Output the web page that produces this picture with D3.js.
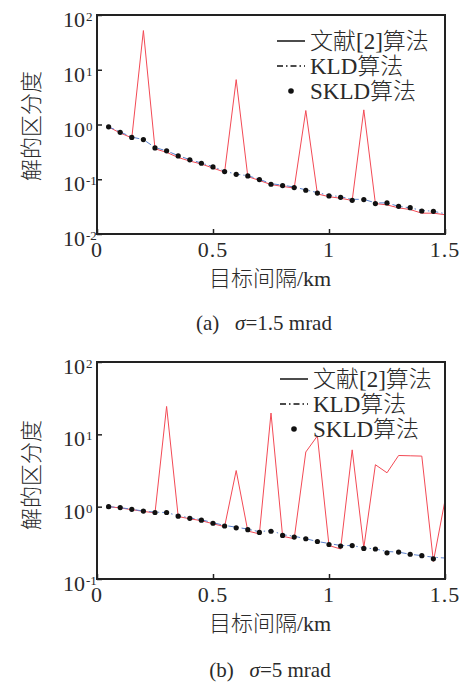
<!DOCTYPE html>
<html>
<head>
<meta charset="utf-8">
<script src="https://cdn.jsdelivr.net/npm/d3@7"></script>
<style>
body { margin: 0; background: #fff; }
text { fill: #2a2a2a; }
</style>
</head>
<body>
<script>
// target spacing (km)
var distance = [0.05, 0.1, 0.15, 0.2, 0.25, 0.3, 0.35, 0.4, 0.45, 0.5,
                0.55, 0.6, 0.65, 0.7, 0.75, 0.8, 0.85, 0.9, 0.95, 1.0,
                1.05, 1.1, 1.15, 1.2, 1.25, 1.3, 1.35, 1.4, 1.45, 1.5];

// (a) sigma = 1.5 mrad
var refA = [0.90, 0.70, 0.57, 52, 0.36, 0.31, 0.25, 0.215, 0.19, 0.16,
            0.135, 6.6, 0.112, 0.095, 0.08, 0.074, 0.069, 1.8, 0.054, 0.048,
            0.045, 0.041, 1.85, 0.036, 0.034, 0.030, 0.028, 0.024, 0.024, 0.0225];
var kldA = [0.91, 0.73, 0.59, 0.53, 0.38, 0.33, 0.27, 0.228, 0.198, 0.17,
            0.14, 0.124, 0.116, 0.1, 0.083, 0.078, 0.072, 0.064, 0.057, 0.051,
            0.048, 0.043, 0.043, 0.037, 0.037, 0.032, 0.030, 0.027, 0.026, 0.0235];
var skldA = [0.906, 0.72, 0.58, 0.53, 0.374, 0.33, 0.267, 0.226, 0.196, 0.168,
             0.138, 0.123, 0.115, 0.0986, 0.081, 0.0766, 0.0704, 0.063, 0.056, 0.0496,
             0.0468, 0.0413, 0.0425, 0.0359, 0.0369, 0.032, 0.0303, 0.0263, 0.026];

// (b) sigma = 5 mrad
var refB = [1.0, 0.96, 0.91, 0.86, 0.82, 24.3, 0.73, 0.68, 0.64, 0.58,
            0.53, 3.16, 0.46, 0.42, 19.7, 0.39, 0.36, 5.7, 9.5, 0.29,
            0.26, 6.1, 0.27, 3.8, 2.94, 5.1, 5.05, 5.0, 0.175, 1.22];
var kldB = [1.0, 0.97, 0.92, 0.87, 0.84, 0.83, 0.75, 0.70, 0.66, 0.60,
            0.55, 0.52, 0.49, 0.45, 0.47, 0.41, 0.39, 0.36, 0.33, 0.31,
            0.29, 0.29, 0.27, 0.26, 0.24, 0.235, 0.22, 0.21, 0.20, 0.195];
var skldB = [1.0, 0.97, 0.92, 0.87, 0.83, 0.83, 0.74, 0.69, 0.65, 0.59,
             0.54, 0.51, 0.48, 0.44, 0.457, 0.40, 0.38, 0.36, 0.33, 0.30,
             0.285, 0.29, 0.265, 0.26, 0.23, 0.236, 0.22, 0.21, 0.19];

var xTicks = [0, 0.5, 1, 1.5];
var legendNames = ['文献[2]算法', 'KLD算法', 'SKLD算法'];

var serif = 'Liberation Serif, Noto Sans CJK SC, serif';
var cjk = 'Noto Sans CJK SC, sans-serif';

var svg = d3.select('body').append('svg')
    .attr('width', 465)
    .attr('height', 683);

function drawPanel(p) {
    var x = d3.scaleLinear().domain([0, 1.5]).range([97, 445]);
    var y = d3.scaleLog().domain([p.yMin, 100]).range([p.bottom, p.top]);
    var g = svg.append('g');

    var clipId = 'clip' + p.id;
    g.append('clipPath').attr('id', clipId)
        .append('rect')
        .attr('x', 97).attr('y', p.top)
        .attr('width', 348).attr('height', p.bottom - p.top);

    var plot = g.append('g').attr('clip-path', 'url(#' + clipId + ')');

    var line = d3.line()
        .x(function(d) { return x(d[0]); })
        .y(function(d) { return y(d[1]); });

    // 文献[2]
    plot.append('path')
        .datum(d3.zip(distance, p.ref))
        .attr('d', line)
        .attr('fill', 'none')
        .attr('stroke', '#f34a55')
        .attr('stroke-width', 1);

    // KLD
    plot.append('path')
        .datum(d3.zip(distance, p.kld))
        .attr('d', line)
        .attr('fill', 'none')
        .attr('stroke', '#5a80cc')
        .attr('stroke-width', 1)
        .attr('stroke-dasharray', '6,3,1.5,3');

    // SKLD dots
    plot.selectAll('.dot')
        .data(d3.zip(distance, p.skld))
        .enter()
        .append('circle')
        .attr('class', 'dot')
        .attr('cx', function(d) { return x(d[0]); })
        .attr('cy', function(d) { return y(d[1]); })
        .attr('r', 2.6)
        .attr('fill', '#111');

    // axes, ticks pointing inside
    var yAxis = d3.axisLeft(y)
        .tickValues(p.yTicks)
        .tickSize(-5)
        .tickFormat('');
    g.append('g')
        .attr('transform', 'translate(97,0)')
        .call(yAxis)
        .call(function(a) { a.select('.domain').remove(); })
        .selectAll('line').attr('stroke', '#222').attr('stroke-width', 1.5);

    var xAxis = d3.axisBottom(x)
        .tickValues(xTicks)
        .tickSize(-5)
        .tickFormat('');
    g.append('g')
        .attr('transform', 'translate(0,' + p.bottom + ')')
        .call(xAxis)
        .call(function(a) { a.select('.domain').remove(); })
        .selectAll('line').attr('stroke', '#222').attr('stroke-width', 1.5);

    // frame
    g.append('rect')
        .attr('x', 97).attr('y', p.top)
        .attr('width', 348).attr('height', p.bottom - p.top)
        .attr('fill', 'none')
        .attr('stroke', '#222')
        .attr('stroke-width', 2);

    // y tick labels 10^n
    p.yTicks.forEach(function(v) {
        var e = Math.round(Math.log10(v));
        g.append('text')
            .attr('x', 85).attr('y', y(v) + 12)
            .attr('text-anchor', 'end')
            .attr('font-family', serif)
            .attr('font-size', 22)
            .text('10');
        g.append('text')
            .attr('x', 86).attr('y', y(v) + 6)
            .attr('font-family', serif)
            .attr('font-size', 13)
            .text(e);
    });

    // x tick labels
    xTicks.forEach(function(v) {
        g.append('text')
            .attr('x', x(v)).attr('y', p.bottom + 23)
            .attr('text-anchor', 'middle')
            .attr('font-family', serif)
            .attr('font-size', 22)
            .attr('letter-spacing', 1)
            .text(v);
    });

    // axis titles
    g.append('text')
        .attr('x', 270).attr('y', p.bottom + 52)
        .attr('text-anchor', 'middle')
        .attr('font-family', serif)
        .attr('font-weight', 300)
        .attr('font-size', 22)
        .text('目标间隔/km');

    g.append('text')
        .attr('transform', 'translate(39,' + p.yTitle + ') rotate(-90)')
        .attr('text-anchor', 'middle')
        .attr('font-family', cjk)
        .attr('font-weight', 300)
        .attr('font-size', 22)
        .text('解的区分度');

    // caption
    var cap = g.append('text')
        .attr('x', p.capX).attr('y', p.capY)
        .attr('text-anchor', 'middle')
        .attr('font-family', serif)
        .attr('font-size', 21);
    cap.append('tspan').text(p.capLabel + '\u00a0\u00a0 ');
    cap.append('tspan').attr('font-style', 'italic').text('σ');
    cap.append('tspan').text('=' + p.capValue);

    // legend
    var lg = g.append('g');
    var lx = p.legX, ly = p.legY, gap = 25;
    lg.append('line')
        .attr('x1', lx).attr('x2', lx + 28)
        .attr('y1', ly).attr('y2', ly)
        .attr('stroke', '#111').attr('stroke-width', 1.5);
    lg.append('line')
        .attr('x1', lx).attr('x2', lx + 28)
        .attr('y1', ly + gap).attr('y2', ly + gap)
        .attr('stroke', '#111').attr('stroke-width', 1.3)
        .attr('stroke-dasharray', '6,3,1.5,3');
    lg.append('circle')
        .attr('cx', lx + 14).attr('cy', ly + gap * 2)
        .attr('r', 2.8).attr('fill', '#111');
    legendNames.forEach(function(n, i) {
        lg.append('text')
            .attr('x', lx + 33).attr('y', ly + gap * i + 8)
            .attr('font-family', serif)
            .attr('font-weight', 300)
            .attr('font-size', 23)
            .text(n);
    });
}

drawPanel({
    id: 'a', top: 15, bottom: 234, yMin: 0.01,
    yTicks: [0.01, 0.1, 1, 10, 100],
    ref: refA, kld: kldA, skld: skldA,
    yTitle: 126,
    capX: 264, capY: 330, capLabel: '(a)', capValue: '1.5 mrad',
    legX: 277, legY: 41
});

drawPanel({
    id: 'b', top: 362, bottom: 579, yMin: 0.1,
    yTicks: [0.1, 1, 10, 100],
    ref: refB, kld: kldB, skld: skldB,
    yTitle: 475,
    capX: 270, capY: 677, capLabel: '(b)', capValue: '5 mrad',
    legX: 280, legY: 379
});
</script>
</body>
</html>
